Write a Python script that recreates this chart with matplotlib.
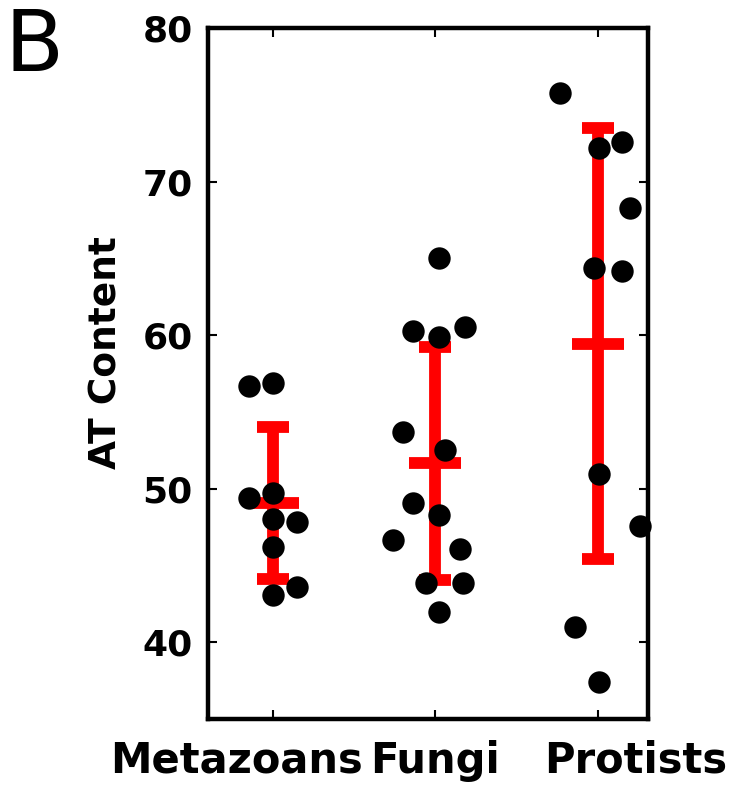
import numpy as np
import matplotlib
matplotlib.use('Agg')
from matplotlib import pyplot as plt
from matplotlib.transforms import ScaledTranslation

groups = ['Metazoans', 'Fungi', 'Protists']

# AT content of each species, with horizontal jitter
meta_at = [56.7, 56.9, 49.4, 49.7, 48.0, 47.8, 46.2, 43.1, 43.6]
meta_dx = [-0.15, 0.0, -0.15, 0.0, 0.0, 0.15, 0.0, 0.0, 0.15]

fungi_at = [65.0, 60.3, 59.9, 60.5, 53.7, 52.5, 49.05, 48.3, 46.65, 46.1, 43.85, 43.85, 42.0]
fungi_dx = [0.02, -0.14, 0.02, 0.18, -0.2, 0.06, -0.14, 0.02, -0.26, 0.15, -0.06, 0.17, 0.02]

prot_at = [75.8, 72.2, 72.6, 68.3, 64.4, 64.2, 50.95, 47.55, 41.0, 37.4]
prot_dx = [-0.23, 0.01, 0.15, 0.2, -0.02, 0.15, 0.01, 0.26, -0.14, 0.01]

# mean +- sd (red bars)
means = [49.05, 51.65, 59.45]
sds = [4.95, 7.6, 14.05]

yticks = [40, 50, 60, 70, 80]

fig = plt.figure(figsize=(7.33, 7.89), dpi=100)
ax = fig.add_axes([0.2838, 0.0887, 0.6003, 0.8758])

pos = np.arange(1, len(groups) + 1)
ax.errorbar(pos, means, yerr=sds, fmt='_', color='red', ms=37, mew=8.5,
            elinewidth=8.5, capsize=11.5, capthick=8.5, zorder=2)

for i, (vals, dx) in enumerate([(meta_at, meta_dx), (fungi_at, fungi_dx), (prot_at, prot_dx)]):
    ax.scatter(pos[i] + np.array(dx), vals, s=260, color='black', lw=0, zorder=3,
               clip_on=False)

ax.set_xlim(0.6, 3.31)
ax.set_ylim(35, 80)
ax.set_yticks(yticks)
ax.set_xticks(pos)
ax.set_xticklabels(groups)

for s in ax.spines.values():
    s.set_linewidth(3.2)
ax.tick_params(direction='in', length=6.5, width=1.5, top=True, right=True)
ax.tick_params(axis='y', pad=11, labelsize=26)
ax.tick_params(axis='x', pad=15, labelsize=30)
for lab in ax.get_yticklabels() + ax.get_xticklabels():
    lab.set_fontweight('bold')

# labels in the original sit off their ticks
shifts = [-26, 0, 27]
for lab, sh in zip(ax.get_xticklabels(), shifts):
    lab.set_transform(lab.get_transform() + ScaledTranslation(sh / 72, 0, fig.dpi_scale_trans))

ax.set_ylabel('AT Content', fontsize=27, fontweight='bold')
ax.yaxis.set_label_coords(-0.19, 0.53)

fig.text(0.006, 0.993, 'B', fontsize=62, va='top', ha='left')

fig.savefig('out.png', dpi=100)
